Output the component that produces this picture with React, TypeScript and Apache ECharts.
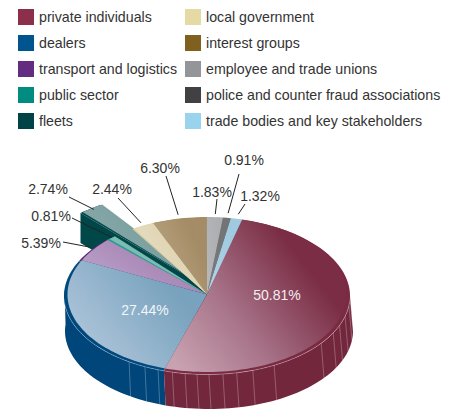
import React, { useEffect, useRef } from "react";
import * as echarts from "echarts";

const categories = [
  "private individuals", "dealers", "transport and logistics", "public sector", "fleets",
  "local government", "interest groups", "employee and trade unions",
  "police and counter fraud associations", "trade bodies and key stakeholders",
];
const shares = [50.81, 27.44, 5.39, 0.81, 2.74, 2.44, 6.3, 1.83, 0.91, 1.32];
const percentLabels = ["50.81%", "27.44%", "5.39%", "0.81%", "2.74%", "2.44%", "6.30%", "1.83%", "0.91%", "1.32%"];
const legendColors = ["#8b2f4b", "#00558f", "#642c80", "#008c80", "#004346", "#e5d9a4", "#80601f", "#939598", "#414042", "#99d3ee"];

// ---- presentation only ----
const faceStops = [
  ["#c8a2b0", "#a8748a", "#7a2d44", "#7a2d44"],
  ["#b4cadc", "#9ab8d0", "#78a2bd", "#78a2bd"],
  ["#c0a8cc", "#b294c0", "#a280ac", "#a280ac"],
  ["#82c4ba", "#7cbeb4", "#76b8ae", "#76b8ae"],
  ["#97b2b0", "#86a6a6", "#6c9898", "#6c9898"],
  ["#e9e2c8", "#e4dbbd", "#ddd2b0", "#ddd2b0"],
  ["#bda985", "#b29c78", "#a48c66", "#a48c66"],
  ["#b6b8ba", "#b1b3b6", "#adafb2", "#adafb2"],
  ["#7b7c7e", "#77787a", "#737476", "#737476"],
  ["#aed5e8", "#a7cfe3", "#a0cadf", "#a0cadf"],
];
const wallColors: Record<number, string> = { 0: "#72273d", 1: "#00467a" };
const rimColors = ["#7a2a42", "#00497e", "#5f2a7e", "#2f9a90", "#00474a", "#d9cda2", "#8f6f32", "#a6a8aa", "#66676a", "#96c8e0"];
const seamAngles = [90, 97, 105, 112, 118, 127, 152, 161.3, 168, 173.6, 179.2, 184, 188.8, 194, 200, 205.7, 213];
const FACE = { cx: 207, cy: 294.5, rx: 139.5, ry: 77.5 };
const RIM = { cx: 207, cy: 296, rx: 143, ry: 78.5 };
const BASE = { cx: 209, cy: 331, rx: 144, ry: 78 };
const START_ANGLE = 14.6;
const EXPLODED: Record<number, { dx: number; dy: number; drop: number; tipDx: number; tipDy: number }> = {
  4: { dx: -32, dy: -24, drop: 30, tipDx: 25, tipDy: 8 },
};
const FONT = "14px 'Liberation Sans', Arial, sans-serif";
// text centre, then leader start; leader end follows from the slice's angle
const labelLayout: Record<number, { x: number; y: number; fill: string; lx?: number; ly?: number; push?: number }> = {
  0: { x: 277, y: 295, fill: "#f4eef0" },
  1: { x: 145, y: 310, fill: "#f2f6f9" },
  2: { x: 41, y: 243, fill: "#333", lx: 63, ly: 242, push: 1.04 },
  3: { x: 51, y: 216, fill: "#333", lx: 72, ly: 218, push: 1.0 },
  4: { x: 48, y: 189, fill: "#333", lx: 69, ly: 197, push: 0.98 },
  5: { x: 112, y: 189, fill: "#333", lx: 118, ly: 198, push: 1.04 },
  6: { x: 160, y: 168, fill: "#333", lx: 166, ly: 176, push: 1.05 },
  7: { x: 212, y: 192, fill: "#333", lx: 217, ly: 199, push: 1.04 },
  8: { x: 244, y: 160, fill: "#333", lx: 239, ly: 174, push: 1.06 },
  9: { x: 260, y: 196, fill: "#333", lx: 245, ly: 204, push: 1.06 },
};
const drawOrder = [4, 6, 5, 7, 8, 9, 2, 3, 1, 0];

const total = shares.reduce((a, b) => a + b, 0);
function sliceRange(i: number, value: number) {
  let sum = 0;
  for (let k = 0; k < i; k++) sum += shares[k];
  const a = START_ANGLE + (sum / total) * 360;
  return [a, a + (value / total) * 360];
}
function pt(e: { cx: number; cy: number; rx: number; ry: number }, deg: number, dx = 0, dy = 0, k = 1) {
  const t = (deg * Math.PI) / 180;
  return [e.cx + dx + k * e.rx * Math.sin(t), e.cy + dy - k * e.ry * Math.cos(t)];
}
function arc(e: any, a: number, b: number, dx = 0, dy = 0) {
  const n = Math.max(2, Math.ceil(Math.abs(b - a) / 2));
  const out: number[][] = [];
  for (let i = 0; i <= n; i++) out.push(pt(e, a + ((b - a) * i) / n, dx, dy));
  return out;
}
function gradientOf(i: number) {
  const s = faceStops[i];
  return new echarts.graphic.LinearGradient(0, 0.85, 1, 0.2, [
    { offset: 0, color: s[0] },
    { offset: 0.36, color: s[1] },
    { offset: 0.8, color: s[2] },
    { offset: 1, color: s[3] },
  ]);
}

function renderSlice(params: any, api: any) {
  const i = drawOrder[params.seriesIndex];
  const [a, b] = sliceRange(i, api.value(0));
  const ex = EXPLODED[i] || { dx: 0, dy: 0, drop: 0, tipDx: 0, tipDy: 0 };
  const children: any[] = [];
  const apexFace = [FACE.cx + ex.tipDx, FACE.cy + ex.tipDy];

  if (wallColors[i]) {
    const wa = Math.max(a, 85), wb = Math.min(b, 275);
    children.push({
      type: "polygon",
      shape: { points: [...arc(RIM, wa, wb), ...arc(BASE, wb, wa)] },
      style: { fill: wallColors[i] },
    });
    seamAngles.filter((s) => s > wa && s <= wb).forEach((s) => {
      const p = pt(RIM, s), q = pt(BASE, s);
      children.push({
        type: "line",
        shape: { x1: p[0], y1: p[1], x2: q[0], y2: q[1] },
        style: { stroke: "rgba(255,255,255,0.32)", lineWidth: 0.8 },
      });
    });
  }
  if (ex.drop) {
    const outer = pt(RIM, a, ex.dx, ex.dy);
    children.push({
      type: "polygon",
      shape: { points: [apexFace, outer, [outer[0], outer[1] + ex.drop], [apexFace[0], apexFace[1] + ex.drop]] },
      style: { fill: rimColors[i] },
    });
  }
  children.push({
    type: "polygon",
    shape: { points: [apexFace, ...arc(RIM, a, b, ex.dx, ex.dy)] },
    style: { fill: rimColors[i] },
  });
  if (wallColors[i]) {
    const wa = Math.max(a, 95), wb = Math.min(b, 268);
    children.push({
      type: "polyline",
      shape: { points: arc(RIM, wa, wb) },
      style: { stroke: "rgba(255,255,255,0.4)", lineWidth: 0.7, fill: "none" },
    });
  }
  children.push({
    type: "polygon",
    shape: { points: [apexFace, ...arc(FACE, a, b, ex.dx, ex.dy)] },
    style: { fill: gradientOf(i) },
  });

  const lay = labelLayout[i];
  if (lay.lx !== undefined) {
    const end = pt(FACE, (a + b) / 2, ex.dx, ex.dy, lay.push);
    children.push({
      type: "line",
      shape: { x1: lay.lx, y1: lay.ly, x2: end[0], y2: end[1] },
      style: { stroke: "#222", lineWidth: 1 },
    });
  }
  children.push({
    type: "text",
    style: { text: percentLabels[i], x: lay.x, y: lay.y, fill: lay.fill, font: FONT, align: "center", verticalAlign: "middle" },
  });
  return { type: "group", children };
}

export default function App() {
  const ref = useRef<HTMLDivElement>(null);
  useEffect(() => {
    document.body.style.margin = "0";
    const chart = echarts.init(ref.current!, undefined, { renderer: "svg" });
    const legendBase = {
      orient: "vertical" as const, top: 9, padding: 0, itemWidth: 16, itemHeight: 16, itemGap: 10,
      icon: "rect", selectedMode: false, textStyle: { fontSize: 14.2, color: "#333", fontFamily: "'Liberation Sans', Arial, sans-serif" },
    };
    chart.setOption({
      animation: false,
      backgroundColor: "#fff",
      legend: [
        { ...legendBase, left: 18, data: categories.slice(0, 5) },
        { ...legendBase, left: 185, data: categories.slice(5) },
      ],
      series: drawOrder.map((i) => ({
        type: "custom",
        name: categories[i],
        coordinateSystem: "none",
        itemStyle: { color: legendColors[i] },
        data: [[shares[i]]],
        renderItem: renderSlice,
        silent: true,
      })),
    });
    return () => chart.dispose();
  }, []);
  return <div ref={ref} style={{ position: "absolute", left: 0, top: 0, width: 456, height: 409 }} />;
}
